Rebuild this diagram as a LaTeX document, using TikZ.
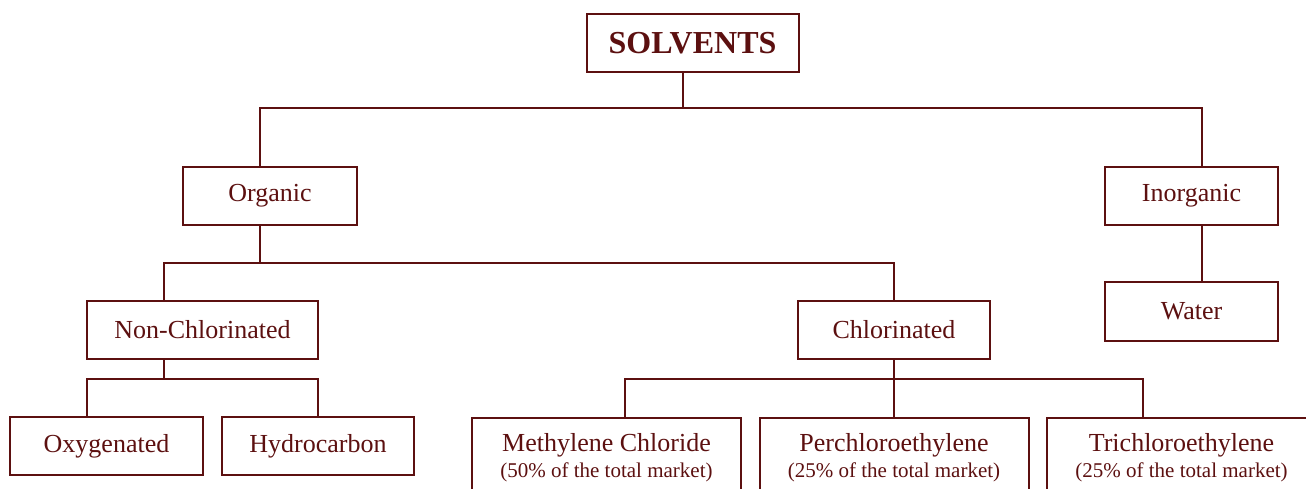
\documentclass[tikz,border=0pt]{standalone}
\usepackage{fontspec}
\setmainfont{Liberation Serif}
\usepackage{tikz}
\definecolor{maroon}{RGB}{92,16,16}
\newcommand{\marketfont}{\fontsize{21}{24}\selectfont}
\tikzset{
	box/.style={rectangle, minimum height=58, inner sep=0pt, text centered, draw=maroon, line width=2pt, text=maroon, font=\fontsize{26}{30}\selectfont},
	title/.style={box, font=\fontsize{32}{36}\selectfont\bfseries},
	share/.style={box, minimum width=269, minimum height=80, align=center},
	link/.style={draw=maroon, line width=2pt}
}

\begin{document}
\begin{tikzpicture}[x=1pt, y=-1pt]
	\useasboundingbox (0,0) rectangle (1306,488);
	\clip (0,0) rectangle (1306,488);

	% Nodes
	\node (solvents) [title, minimum width=212] at (692.5,43) {SOLVENTS};
	\node (organic) [box, minimum width=174] at (270,196) {Organic};
	\node (inorganic) [box, minimum width=173] at (1191.5,196) {Inorganic};
	\node (water) [box, minimum width=173, minimum height=59] at (1191.5,311.5) {Water};
	\node (nonchl) [box, minimum width=231] at (202.5,330) {Non-Chlorinated};
	\node (chl) [box, minimum width=192] at (894,330) {Chlorinated};
	\node (oxy) [box, minimum width=193] at (106.5,446) {Oxygenated};
	\node (hydro) [box, minimum width=192] at (318,446) {Hydrocarbon};
	\node (methyl) [share] at (606.5,458) {Methylene Chloride\\[-4pt]{\marketfont (50\% of the total market)}};
	\node (perc) [share] at (894,458) {Perchloroethylene\\[-4pt]{\marketfont (25\% of the total market)}};
	\node (trich) [share] at (1181.5,458) {Trichloroethylene\\[-4pt]{\marketfont (25\% of the total market)}};

	% Lines
	\coordinate (top) at (683,108);
	\coordinate (orgbar) at (260,263);
	\coordinate (nonbar) at (164,379);
	\coordinate (chlbar) at (894,379);
	\draw [link] ([xshift=-9.5]solvents.south) -- (top);
	\draw [link] ([xshift=-10]organic.north) |- (top) -| ([xshift=10.5]inorganic.north);
	\draw [link] ([xshift=10.5]inorganic.south) -- ([xshift=10.5]water.north);
	\draw [link] ([xshift=-10]organic.south) -- (orgbar);
	\draw [link] ([xshift=-38.5]nonchl.north) |- (orgbar) -| (chl.north);
	\draw [link] ([xshift=-38.5]nonchl.south) -- (nonbar);
	\draw [link] ([xshift=-19.5]oxy.north) |- (nonbar) -| (hydro.north);
	\draw [link] (chl.south) -- (chlbar);
	\draw [link] ([xshift=18.5]methyl.north) |- (chlbar) -| ([xshift=-38.5]trich.north);
	\draw [link] (chlbar) -- (perc.north);

\end{tikzpicture}
\end{document}
